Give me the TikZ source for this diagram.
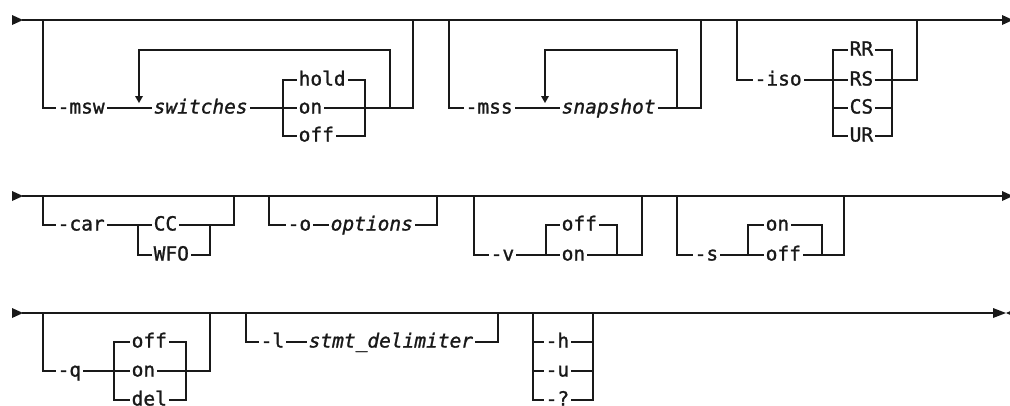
\documentclass[tikz,border=0pt]{standalone}
\usepackage{fontspec}
\setmonofont[FakeBold=1.2]{DejaVu Sans Mono}
\usetikzlibrary{backgrounds}
\begin{document}
\begin{tikzpicture}[x=1pt,y=-1pt,
  rail/.style={line width=1.3pt, line join=miter, line cap=rect, draw=black!90},
  kw/.style={font=\fontsize{19.5}{20}\selectfont\ttfamily, anchor=base west,
             inner xsep=2pt, inner ysep=1pt, fill=white, text=black!90,
             yshift=-5.5pt},
  var/.style={kw, font=\fontsize{19.5}{20}\selectfont\ttfamily\itshape},
  tip/.style={fill=black!90, draw=none}]
\useasboundingbox (0,0) rectangle (1010,405);
\clip (0,0) rectangle (1010,405);

% ---------------- Row 1 ----------------
\node[kw]  (msw)  at (55.5,108) {-msw};
\node[var] (sw)   at (151.5,108) {switches};
\node[kw]  (hold) at (296.5,80) {hold};
\node[kw]  (on1)  at (296.5,108) {on};
\node[kw]  (off1) at (296.5,136) {off};
\node[kw]  (mss)  at (463.5,108) {-mss};
\node[var] (snap) at (559.5,108) {snapshot};
\node[kw]  (iso)  at (752.5,80) {-iso};
\node[kw]  (rr)   at (847.5,50) {RR};
\node[kw]  (rs)   at (847.5,80) {RS};
\node[kw]  (cs)   at (847.5,108) {CS};
\node[kw]  (ur)   at (847.5,136) {UR};

% ---------------- Row 2 ----------------
\node[kw]  (car)  at (55.5,225) {-car};
\node[kw]  (cc)   at (151.5,225) {CC};
\node[kw]  (wfo)  at (151.5,255) {WFO};
\node[kw]  (o)    at (285.5,225) {-o};
\node[var] (opts) at (328.5,225) {options};
\node[kw]  (v)    at (488.5,255) {-v};
\node[kw]  (voff) at (559.5,225) {off};
\node[kw]  (von)  at (559.5,255) {on};
\node[kw]  (s)    at (692.5,255) {-s};
\node[kw]  (son)  at (763.5,225) {on};
\node[kw]  (soff) at (763.5,255) {off};

% ---------------- Row 3 ----------------
\node[kw]  (q)    at (55.5,371) {-q};
\node[kw]  (qoff) at (129.5,342) {off};
\node[kw]  (qon)  at (129.5,371) {on};
\node[kw]  (qdel) at (129.5,400) {del};
\node[kw]  (l)    at (258.5,342) {-l};
\node[var] (stmt) at (306.5,342) {stmt\_delimiter};
\node[kw]  (h)    at (543.5,342) {-h};
\node[kw]  (u)    at (543.5,371) {-u};
\node[kw]  (qm)   at (543.5,400) {-?};

\begin{scope}[on background layer]
  % row 1
  \draw[rail] (23,20) -- (1003,20);
  \draw[rail] (43,20) |- (413,108) -- (413,20);
  \draw[rail] (390,108) |- (139,50) -- (139,97);
  \draw[rail] (283,80) rectangle (365,136);
  \draw[rail] (449,20) |- (701,108) -- (701,20);
  \draw[rail] (677,108) |- (545,50) -- (545,97);
  \draw[rail] (737,20) |- (917,80) -- (917,20);
  \draw[rail] (833,50) rectangle (892,136);
  \draw[rail] (833,108) -- (892,108);
  % row 2
  \draw[rail] (23,196) -- (1003,196);
  \draw[rail] (43,196) |- (234,225) -- (234,196);
  \draw[rail] (138,225) |- (210,255) -- (210,225);
  \draw[rail] (269,196) |- (437,225) -- (437,196);
  \draw[rail] (474,196) |- (642,255) -- (642,196);
  \draw[rail] (546,255) |- (617,225) -- (617,255);
  \draw[rail] (677,196) |- (844,255) -- (844,196);
  \draw[rail] (748,255) |- (822,225) -- (822,255);
  % row 3
  \draw[rail] (23,313) -- (994,313);
  \draw[rail] (43,313) |- (210,371) -- (210,313);
  \draw[rail] (114,342) rectangle (186,400);
  \draw[rail] (246,313) |- (498,342) -- (498,313);
  \draw[rail] (533,313) |- (593,400) -- (593,313);
  \draw[rail] (533,342) -- (593,342);
  \draw[rail] (533,371) -- (593,371);
\end{scope}

% arrowheads
\fill[tip] (12,15) -- (23,20) -- (12,25) -- cycle;
\fill[tip] (1002,15) -- (1013,20) -- (1002,25) -- cycle;
\fill[tip] (12,191) -- (23,196) -- (12,201) -- cycle;
\fill[tip] (1002,191) -- (1013,196) -- (1002,201) -- cycle;
\fill[tip] (12,308) -- (23,313) -- (12,318) -- cycle;
\fill[tip] (993,308) -- (1006,313) -- (993,318) -- cycle;
\fill[tip] (1006,313) -- (1015,309) -- (1015,317) -- cycle;
\fill[tip] (135,96) -- (143,96) -- (139,103) -- cycle;
\fill[tip] (541,96) -- (549,96) -- (545,103) -- cycle;
\end{tikzpicture}
\end{document}
